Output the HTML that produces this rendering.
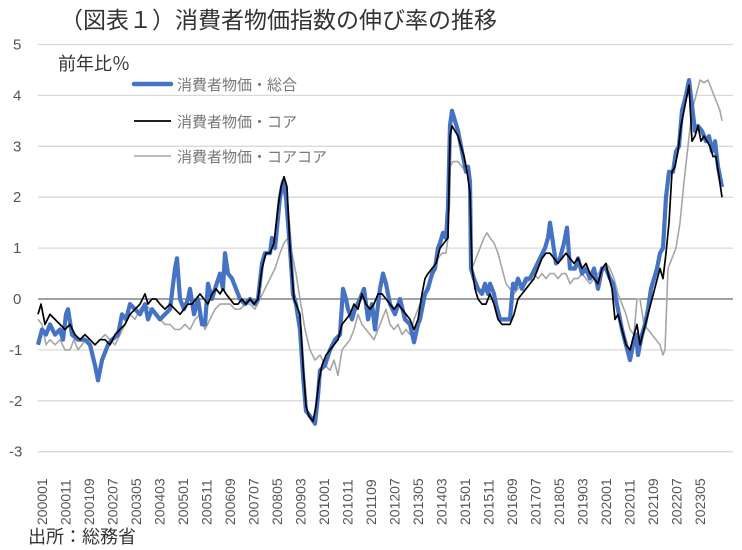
<!DOCTYPE html>
<html><head><meta charset="utf-8"><style>
body{margin:0;background:#fff;}
svg{display:block;font-family:"Liberation Sans","Noto Sans CJK JP",sans-serif;}
</style></head><body>
<svg id="s" width="742" height="550" viewBox="0 0 742 550">
<text x="60" y="28" font-size="23" fill="#333">（図表１）消費者物価指数の伸び率の推移</text>
<g id="grid" stroke="#d9d9d9" stroke-width="1.3"></g>
<g id="ylab" font-size="15" fill="#555"></g>
<line x1="38" x2="733" y1="299" y2="299" stroke="#444" stroke-width="1"/>
<text x="58" y="70" font-size="18" fill="#333">前年比％</text>
<line x1="134" x2="171" y1="84" y2="84" stroke="#4472C4" stroke-width="4.5" stroke-linecap="round"/>
<text x="177" y="90" font-size="15" fill="#777">消費者物価・総合</text>
<line x1="134" x2="171" y1="121" y2="121" stroke="#000" stroke-width="1.8"/>
<text x="177" y="127" font-size="15" fill="#777">消費者物価・コア</text>
<line x1="134" x2="171" y1="156" y2="156" stroke="#a6a6a6" stroke-width="1.5"/>
<text x="177" y="162" font-size="15" fill="#777">消費者物価・コアコア</text>
<g id="series" fill="none" stroke-linejoin="round"></g>
<g id="xlab" font-size="14" fill="#555"></g>
<text x="28" y="543" font-size="18" fill="#333">出所：総務省</text>
</svg>
<script>
const Y=v=>299-v*50.9;
const ns="http://www.w3.org/2000/svg";
function el(p,t,a,txt){const e=document.createElementNS(ns,t);for(const k in a)e.setAttribute(k,a[k]);if(txt!==undefined)e.textContent=txt;document.getElementById(p).appendChild(e);}
for(let v=5;v>=-3;v--){ if(v!==0) el("grid","line",{x1:38,x2:733,y1:Y(v),y2:Y(v)}); el("ylab","text",{x:v<0?9:13,y:Y(v)+5},String(v));}
const labs=["200001","200011","200109","200207","200305","200403","200501","200511","200609","200707","200805","200903","201001","201011","201109","201207","201305","201403","201501","201511","201609","201707","201805","201903","202001","202011","202109","202207","202305"];
labs.forEach((l,i)=>{const x=42+i*23.5+5;el("xlab","text",{x:x,y:525,transform:`rotate(-90 ${x} 525)`},l);});
const blue=[[38,-0.9],[42,-0.6],[46,-0.7],[50,-0.5],[55,-0.7],[60,-0.6],[63,-0.8],[66,-0.3],[68,-0.2],[72,-0.7],[78,-0.8],[85,-0.8],[90,-0.9],[95,-1.3],[98,-1.6],[102,-1.2],[108,-0.9],[112,-0.8],[118,-0.7],[122,-0.3],[126,-0.4],[130,-0.1],[135,-0.2],[140,-0.3],[145,-0.1],[148,-0.4],[152,-0.2],[156,-0.3],[160,-0.4],[165,-0.3],[170,-0.2],[175,0.6],[177,0.8],[180,0],[184,-0.2],[188,0],[190,0.2],[194,-0.3],[198,0],[202,-0.5],[205,-0.5],[208,0.3],[212,0],[215,0.2],[220,0.5],[223,0.2],[225,0.9],[228,0.5],[232,0.4],[236,0.2],[240,0],[245,-0.1],[250,0],[255,-0.1],[258,0],[262,0.7],[265,0.9],[270,0.9],[272,1.2],[275,1.0],[280,2.0],[283,2.3],[286,2.0],[290,1.0],[293,0.1],[296,-0.1],[300,-0.6],[303,-1.5],[306,-2.2],[310,-2.3],[315,-2.45],[318,-1.9],[320,-1.4],[325,-1.3],[330,-1.0],[335,-0.8],[340,-0.7],[343,0.2],[346,0],[348,-0.2],[352,-0.4],[355,-0.2],[360,0],[364,0.2],[368,-0.4],[372,-0.1],[375,-0.6],[380,0.2],[383,0.5],[386,0.3],[390,-0.1],[395,-0.3],[400,0],[405,-0.4],[410,-0.5],[414,-0.85],[418,-0.5],[420,-0.4],[425,0.1],[428,0.2],[432,0.5],[435,0.6],[438,1.0],[440,1.1],[443,1.3],[446,1.2],[448,1.8],[450,3.4],[452,3.7],[455,3.5],[458,3.3],[460,3.1],[463,2.8],[466,2.5],[468,2.6],[470,2.3],[471,0.6],[474,0.4],[478,0.2],[482,0.1],[485,0.3],[488,0.1],[490,0.3],[494,0.1],[496,-0.1],[500,-0.4],[505,-0.4],[510,-0.4],[513,0.3],[515,0.2],[518,0.4],[522,0.2],[526,0.4],[530,0.4],[535,0.6],[540,0.8],[545,1.0],[548,1.2],[550,1.5],[553,1.1],[556,0.7],[560,0.8],[564,1.1],[567,1.4],[570,0.6],[575,0.6],[578,0.8],[582,0.5],[586,0.6],[590,0.4],[594,0.6],[598,0.2],[602,0.6],[606,0.6],[610,0.4],[613,0.3],[616,0.0],[619,-0.3],[622,-0.6],[626,-0.9],[630,-1.2],[634,-0.8],[636,-0.7],[638,-1.1],[642,-0.7],[645,-0.5],[648,-0.2],[651,0.2],[654,0.4],[657,0.6],[660,0.9],[663,1.0],[666,2.0],[669,2.5],[673,2.5],[676,2.9],[679,3.0],[682,3.7],[686,4.0],[689,4.3],[692,3.8],[695,3.3],[698,3.4],[702,3.3],[706,3.1],[709,3.2],[712,2.9],[715,3.1],[718,2.6],[722,2.2]];
const black=[[38,-0.3],[41,-0.1],[45,-0.5],[50,-0.3],[55,-0.4],[60,-0.5],[65,-0.6],[70,-0.5],[75,-0.7],[80,-0.8],[85,-0.7],[90,-0.8],[95,-0.9],[100,-0.8],[105,-0.8],[110,-0.9],[115,-0.7],[120,-0.6],[125,-0.5],[130,-0.3],[135,-0.2],[140,-0.1],[145,0.1],[148,-0.1],[152,0],[156,0],[160,-0.1],[165,-0.2],[170,-0.1],[175,-0.2],[180,-0.3],[184,-0.2],[188,-0.1],[192,-0.1],[196,0],[200,0.1],[204,0],[208,-0.1],[212,0.1],[216,0.2],[220,0.1],[223,0.2],[226,0.1],[230,0],[234,-0.1],[238,-0.1],[242,0],[246,-0.1],[250,0],[254,-0.1],[258,0],[262,0.6],[266,0.9],[270,0.9],[274,1.1],[278,1.8],[281,2.2],[284,2.4],[287,2.2],[290,1.0],[294,0],[298,-0.2],[300,-0.3],[303,-1.3],[306,-2.1],[309,-2.3],[313,-2.4],[316,-2.1],[319,-1.6],[322,-1.3],[326,-1.1],[330,-1.0],[334,-0.9],[338,-0.8],[342,-0.5],[346,-0.4],[350,-0.3],[354,-0.1],[358,-0.2],[362,0.1],[366,-0.1],[370,-0.2],[374,-0.1],[378,0.1],[382,0.1],[386,0],[390,-0.1],[394,-0.2],[398,-0.1],[402,-0.2],[406,-0.3],[410,-0.4],[414,-0.6],[418,-0.4],[422,0.1],[425,0.4],[428,0.5],[432,0.6],[436,0.7],[440,1.0],[444,1.1],[448,1.2],[450,3.2],[452,3.4],[455,3.3],[458,3.2],[461,3.0],[464,2.8],[467,2.5],[470,2.1],[472,0.6],[475,0.2],[478,0],[482,-0.1],[486,-0.1],[490,0.1],[494,-0.1],[498,-0.4],[502,-0.5],[506,-0.5],[510,-0.5],[514,-0.3],[518,0],[522,0.1],[526,0.2],[530,0.3],[534,0.4],[538,0.6],[542,0.8],[546,0.9],[550,0.9],[554,0.8],[558,0.7],[562,0.8],[566,0.9],[570,0.8],[574,0.7],[578,0.8],[582,0.6],[586,0.7],[590,0.5],[594,0.4],[598,0.3],[602,0.6],[606,0.7],[608,0.5],[612,0.2],[615,-0.4],[618,-0.3],[622,-0.6],[626,-0.9],[630,-1.0],[634,-0.7],[637,-0.5],[640,-0.9],[644,-0.6],[648,-0.3],[652,0],[656,0.3],[660,0.6],[663,0.4],[666,0.9],[669,1.5],[672,2.5],[675,2.6],[678,2.9],[681,3.4],[684,3.7],[687,4.0],[689,4.2],[692,3.1],[695,3.2],[698,3.4],[701,3.1],[704,3.2],[707,3.1],[710,3.0],[713,2.8],[716,2.8],[719,2.4],[722,2.0]];
const gray=[[38,-0.4],[42,-0.5],[46,-0.9],[50,-0.8],[55,-0.9],[60,-0.8],[65,-1.0],[70,-1.0],[74,-0.8],[78,-1.0],[82,-0.9],[86,-0.8],[90,-0.8],[95,-0.9],[100,-0.8],[105,-0.7],[110,-0.8],[115,-0.9],[120,-0.7],[125,-0.5],[130,-0.3],[135,-0.4],[140,-0.2],[145,-0.1],[150,-0.2],[155,-0.3],[160,-0.4],[165,-0.5],[170,-0.5],[175,-0.6],[180,-0.6],[185,-0.5],[190,-0.6],[195,-0.4],[200,-0.3],[205,-0.6],[210,-0.4],[215,-0.2],[220,-0.1],[225,-0.1],[230,-0.1],[235,-0.2],[240,-0.2],[245,-0.1],[250,-0.1],[255,-0.2],[260,0],[265,0.2],[270,0.4],[275,0.6],[280,0.9],[284,1.1],[288,1.2],[292,0.9],[296,0.5],[300,0],[305,-0.6],[310,-1.0],[315,-1.2],[320,-1.1],[325,-1.3],[330,-1.4],[334,-1.2],[338,-1.5],[342,-1.0],[346,-0.9],[350,-0.8],[354,-0.6],[358,-0.3],[362,-0.5],[366,-0.6],[370,-0.7],[374,-0.8],[378,-0.6],[382,-0.4],[386,-0.2],[390,-0.5],[394,-0.6],[398,-0.5],[402,-0.7],[406,-0.6],[410,-0.7],[414,-0.4],[418,-0.2],[422,0],[426,0.2],[430,0.4],[434,0.5],[438,0.8],[442,0.9],[446,0.9],[448,1.2],[450,2.6],[453,2.7],[458,2.7],[462,2.6],[466,2.5],[470,2.5],[472,0.6],[476,0.8],[480,1.0],[484,1.2],[487,1.3],[490,1.2],[494,1.1],[498,0.9],[502,0.6],[506,0.3],[510,0.2],[514,0.1],[518,0.2],[522,0.3],[526,0.3],[530,0.4],[534,0.5],[538,0.4],[542,0.5],[546,0.4],[550,0.5],[554,0.5],[558,0.4],[562,0.5],[566,0.5],[570,0.3],[574,0.4],[578,0.4],[582,0.5],[586,0.4],[590,0.3],[594,0.4],[598,0.5],[602,0.6],[606,0.7],[610,0.6],[614,0.4],[618,0.1],[622,-0.1],[626,-0.3],[630,-0.6],[634,-0.7],[637,0],[640,0],[644,-0.5],[648,-0.6],[652,-0.7],[656,-0.8],[660,-0.9],[663,-1.1],[665,-1.0],[668,0.6],[672,0.8],[676,1.0],[680,1.5],[684,2.3],[688,3.0],[692,3.7],[696,4.0],[700,4.3],[704,4.25],[708,4.3],[712,4.1],[716,3.9],[720,3.7],[722,3.5]];
function pl(d,c,w){el("series","polyline",{points:d.map(p=>p[0]+","+Y(p[1]).toFixed(1)).join(" "),stroke:c,"stroke-width":w});}
pl(gray,"#a6a6a6",1.6);
pl(blue,"#4472C4",4.2);
pl(black,"#000",1.7);
</script>
</body></html>
